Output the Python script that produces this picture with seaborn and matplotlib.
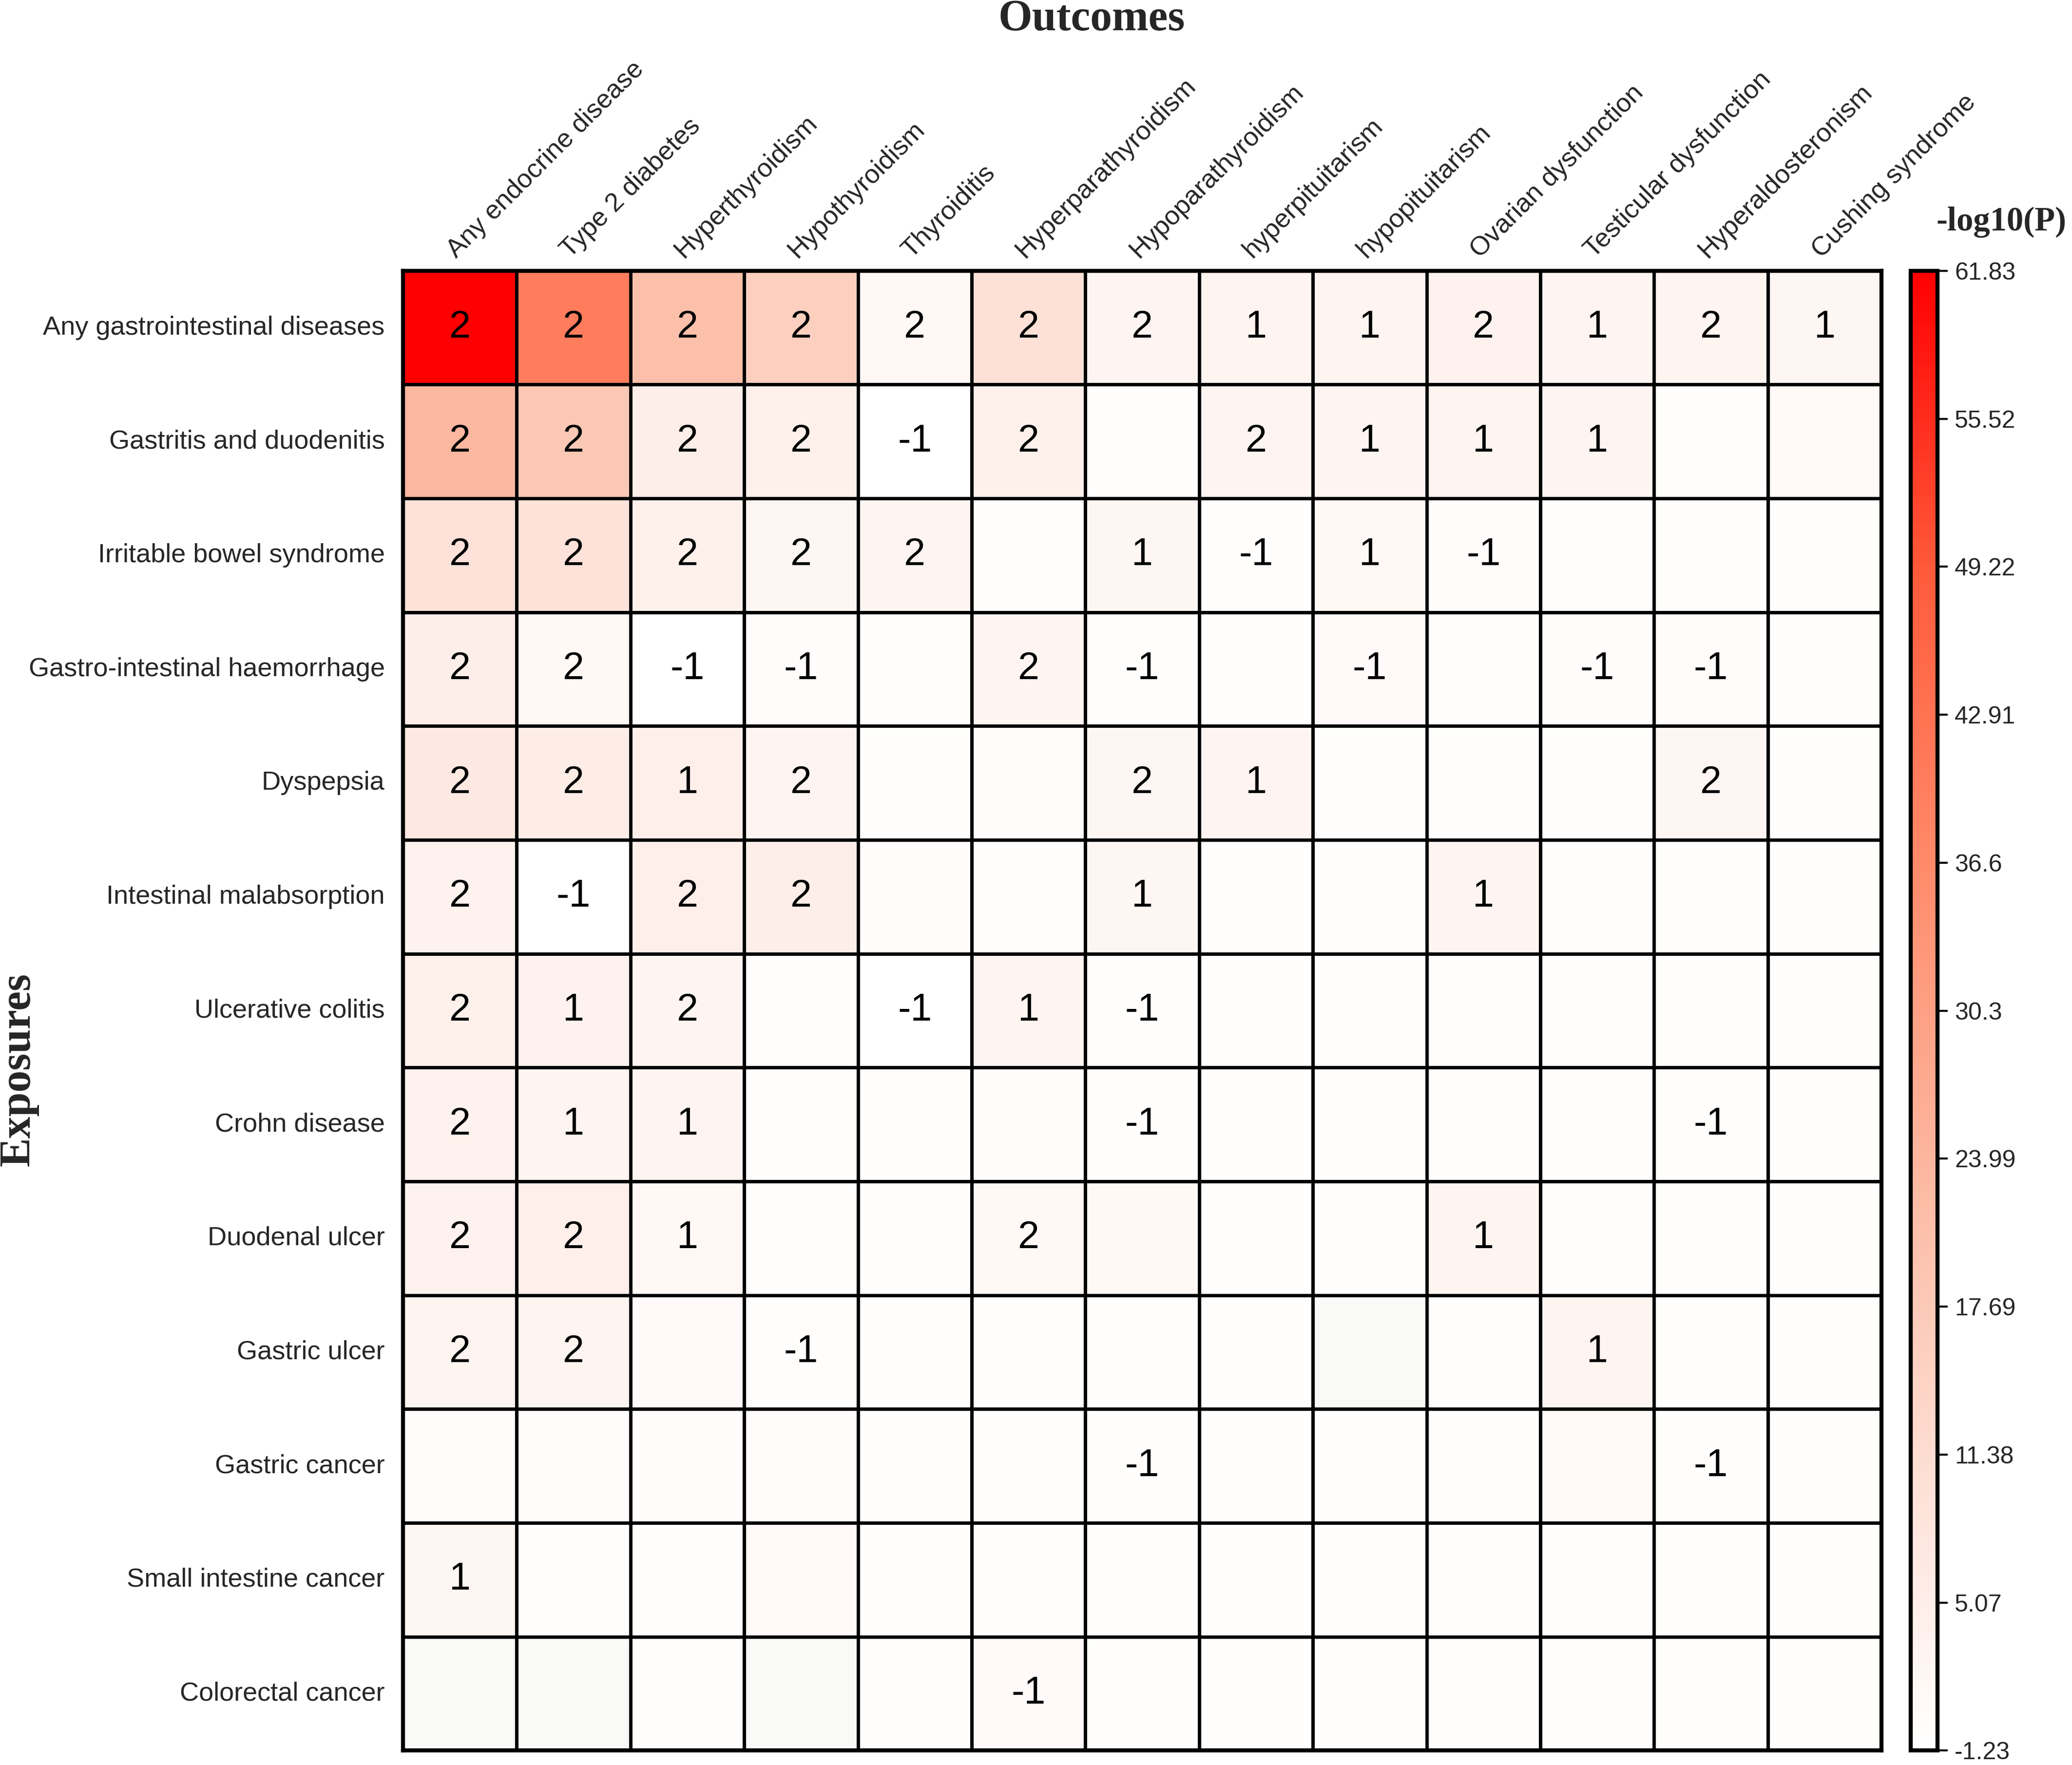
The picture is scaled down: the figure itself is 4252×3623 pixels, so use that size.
import numpy as np
import pandas as pd
import matplotlib
matplotlib.use("Agg")
import matplotlib.pyplot as plt
import seaborn as sns
from matplotlib.colors import LinearSegmentedColormap

outcomes = ["Any endocrine disease", "Type 2 diabetes", "Hyperthyroidism", "Hypothyroidism",
            "Thyroiditis", "Hyperparathyroidism", "Hypoparathyroidism", "hyperpituitarism",
            "hypopituitarism", "Ovarian dysfunction", "Testicular dysfunction",
            "Hyperaldosteronism", "Cushing syndrome"]

exposures = ["Any gastrointestinal diseases", "Gastritis and duodenitis", "Irritable bowel syndrome",
             "Gastro-intestinal haemorrhage", "Dyspepsia", "Intestinal malabsorption",
             "Ulcerative colitis", "Crohn disease", "Duodenal ulcer", "Gastric ulcer",
             "Gastric cancer", "Small intestine cancer", "Colorectal cancer"]

# -log10(P) (nan = grey cell)
nan = np.nan
logp = [
    [61.83, 40.0, 21.0, 16.0, 1.5, 10.0, 2.5, 3.0, 3.0, 3.5, 2.5, 3.0, 2.0],
    [23.5, 18.0, 5.0, 4.0, -1.0, 4.0, -0.5, 2.5, 2.5, 3.0, 2.5, -0.5, 1.0],
    [9.5, 9.5, 4.0, 2.0, 2.5, -0.5, 2.0, -0.5, 1.5, 0.0, -0.5, -0.5, -0.5],
    [5.0, 1.5, -1.0, 0.0, -0.5, 3.0, -0.5, -0.5, 0.5, -0.5, 0.0, 0.0, -0.5],
    [7.0, 5.5, 4.5, 2.5, -0.5, 0.0, 2.0, 2.5, -0.5, -0.5, -0.5, 2.0, -0.5],
    [3.5, -1.0, 4.5, 5.0, 0.0, -0.5, 2.0, -0.5, -0.5, 2.5, -0.5, -0.5, -0.5],
    [4.0, 3.5, 2.5, -0.5, -1.0, 3.0, -0.5, -0.5, -0.5, -0.5, -0.5, -0.5, -0.5],
    [3.5, 3.0, 2.5, -0.5, -0.5, 0.0, -0.5, -0.5, -0.5, -0.5, -0.5, -0.5, -0.5],
    [3.5, 4.5, 1.5, -0.5, -0.5, 1.5, 1.5, -0.5, -0.5, 3.0, -0.5, -0.5, -0.5],
    [3.0, 3.0, 0.5, -0.5, -0.5, -0.5, -0.5, -0.5, nan, -0.5, 3.0, -0.5, -0.5],
    [0.0, 0.0, 0.0, 0.0, -0.5, -0.5, -0.5, -0.5, -0.5, -0.5, 1.0, -0.5, -0.5],
    [2.0, -0.5, -0.5, 1.0, -0.5, -0.5, -0.5, -0.5, -0.5, -0.5, -0.5, -0.5, -0.5],
    [nan, nan, -0.5, nan, -0.5, 0.5, -0.5, -0.5, -0.5, -0.5, -0.5, -0.5, -0.5],
]

# number shown in each cell ("" = empty)
labels = [
    ["2", "2", "2", "2", "2", "2", "2", "1", "1", "2", "1", "2", "1"],
    ["2", "2", "2", "2", "-1", "2", "", "2", "1", "1", "1", "", ""],
    ["2", "2", "2", "2", "2", "", "1", "-1", "1", "-1", "", "", ""],
    ["2", "2", "-1", "-1", "", "2", "-1", "", "-1", "", "-1", "-1", ""],
    ["2", "2", "1", "2", "", "", "2", "1", "", "", "", "2", ""],
    ["2", "-1", "2", "2", "", "", "1", "", "", "1", "", "", ""],
    ["2", "1", "2", "", "-1", "1", "-1", "", "", "", "", "", ""],
    ["2", "1", "1", "", "", "", "-1", "", "", "", "", "-1", ""],
    ["2", "2", "1", "", "", "2", "", "", "", "1", "", "", ""],
    ["2", "2", "", "-1", "", "", "", "", "", "", "1", "", ""],
    ["", "", "", "", "", "", "-1", "", "", "", "", "-1", ""],
    ["1", "", "", "", "", "", "", "", "", "", "", "", ""],
    ["", "", "", "", "", "-1", "", "", "", "", "", "", ""],
]

vmin, vmax = -1.23, 61.83
cbar_ticklabels = ["-1.23", "5.07", "11.38", "17.69", "23.99", "30.3",
                   "36.6", "42.91", "49.22", "55.52", "61.83"]

df = pd.DataFrame(logp, index=exposures, columns=outcomes)
annot = np.array(labels)

cmap = LinearSegmentedColormap.from_list(
    "wr",
    [(0.0, "#FFFFFF"), (0.18, "#FDE0D6"), (0.38, "#FCBAA3"),
     (0.6, "#FF8A6A"), (0.8, "#FF5A3A"), (1.0, "#FF0000")])
cmap.set_bad("#F9F9F7")

sns.set_style("white")
plt.rcParams["font.family"] = ["Liberation Sans", "DejaVu Sans"]

fig = plt.figure(figsize=(4252 / 300, 3623 / 300), dpi=300)
ax = fig.add_axes([0.1945, 0.0082, 0.7136, 0.8384])
cax = fig.add_axes([0.9222, 0.0082, 0.0128, 0.8384])

sns.heatmap(df, ax=ax, cbar_ax=cax, cmap=cmap, vmin=vmin, vmax=vmax,
            annot=annot, fmt="", annot_kws={"fontsize": 19, "color": "black"},
            linewidths=1.3, linecolor="black", square=False)

ax.xaxis.tick_top()
ax.set_xticklabels(outcomes, rotation=45, ha="left", rotation_mode="anchor", fontsize=13)
ax.set_yticklabels(exposures, rotation=0, fontsize=13)
ax.tick_params(axis="both", length=0, pad=9)
ax.tick_params(axis="x", pad=4)
ax.set_xlabel("")
ax.set_ylabel("")
for s in ax.spines.values():
    s.set_visible(True)
    s.set_linewidth(2)
    s.set_color("black")

cbar = ax.collections[0].colorbar
cbar.set_ticks(np.linspace(vmin, vmax, len(cbar_ticklabels)))
cbar.set_ticklabels(cbar_ticklabels)
cbar.ax.tick_params(labelsize=12, length=5, width=1, color="black")
cbar.outline.set_visible(True)
cbar.outline.set_edgecolor("black")
cbar.outline.set_linewidth(2)

serif = ["Liberation Serif", "DejaVu Serif"]
fig.text(0.527, 0.989, "Outcomes", ha="center", va="center", fontsize=21.5,
         fontweight="bold", family=serif)
fig.text(0.009, 0.394, "Exposures", ha="center", va="center", rotation=90,
         fontsize=21.5, fontweight="bold", family=serif)
fig.text(0.966, 0.874, "-log10(P)", ha="center", va="center", fontsize=16.5,
         fontweight="bold", family=serif)

fig.savefig("out.png", dpi=300)
